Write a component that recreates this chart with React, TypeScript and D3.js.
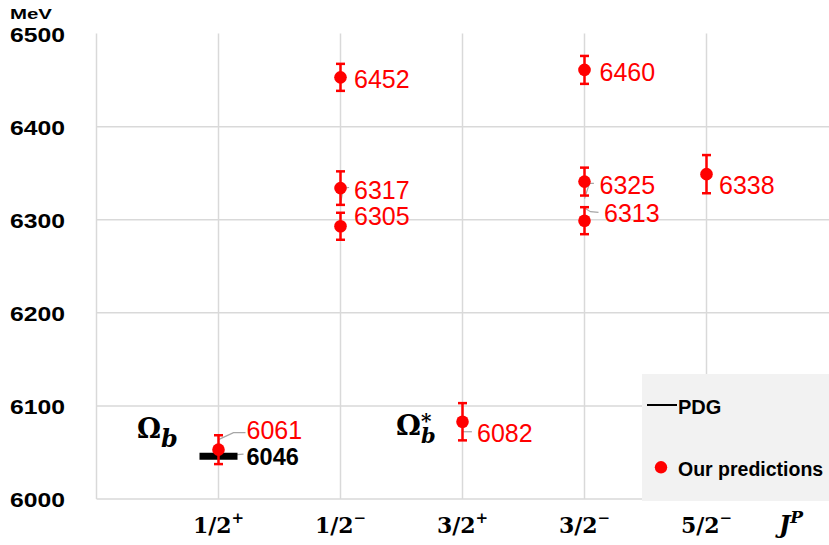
import React from "react";
import * as d3 from "d3";

const categories = ["1/2", "1/2", "3/2", "3/2", "5/2"];
const parities = ["+", "\u2212", "+", "\u2212", "\u2212"];
const yTicks = [6000, 6100, 6200, 6300, 6400, 6500];

const predCategory = [0, 1, 1, 1, 2, 3, 3, 3, 4];
const predMass = [6053, 6453, 6334, 6293, 6083, 6461, 6341, 6299, 6349];
const predError = [15.5, 14.5, 18, 14.5, 20, 15, 15, 14.5, 20.5];
const predLabel = ["6061", "6452", "6317", "6305", "6082", "6460", "6325", "6313", "6338"];

const pdgCategory = [0];
const pdgMass = [6046];
const pdgLabel = ["6046"];

// annotation layout (pixel offsets from the point)
const labelDx = [28, 13.5, 13.5, 13.5, 14.5, 15, 15, 19.5, 12.5];
const labelDy = [-10.5, 10.5, 10.5, -1.5, 20, 11, 12.5, 1.5, 20];
const leaders: (number[][] | null)[] = [
  [[0, -10], [15, -17], [27, -17]],
  null,
  [[0, 17], [2.6, 0], [8.6, -0.6]],
  null,
  [[0, 10], [9.4, 10]],
  null,
  [[0, 17], [5, 1.7], [9.4, 1.7]],
  [[0, -12.7], [6, -9], [14, -8.4]],
  null,
];

const W = 829;
const H = 545;
const RED = "#ff0000";
const GRID = "#d9d9d9";

export default function App() {
  const x = d3.scaleLinear().domain([0, 6]).range([96.5, 828.5]);
  const y = d3.scaleLinear().domain([6000, 6500]).range([499, 33.6]);
  const cx = (i: number) => x(i + 1);
  const line = d3.line();

  return (
    <svg
      width={W}
      height={H}
      style={{ position: "absolute", left: 0, top: 0, background: "#fff" }}
    >
      {/* grid */}
      {yTicks.filter((t) => t < 6500).map((t) => (
        <line key={"h" + t} x1={x(0)} x2={W} y1={y(t)} y2={y(t)} stroke={GRID} strokeWidth={1.5} />
      ))}
      {[0, 1, 2, 3, 4, 5].map((i) => (
        <line key={"v" + i} x1={x(i)} x2={x(i)} y1={y(6500)} y2={y(6000)} stroke={GRID} strokeWidth={1.5} />
      ))}

      {/* legend box */}
      <rect x={642} y={374} width={W - 642} height={127} fill="#f2f2f2" />
      <line x1={647} x2={677} y1={405} y2={405} stroke="#000" strokeWidth={2} />
      <text x={678} y={413.5} fontFamily="Liberation Sans, Arial, sans-serif" fontWeight="bold" fontSize={20} fill="#000">PDG</text>
      <circle cx={661} cy={467.3} r={6.2} fill={RED} />
      <text x={678} y={476} fontFamily="Liberation Sans, Arial, sans-serif" fontWeight="bold" fontSize={19.5} fill="#000">Our predictions</text>

      {/* y axis labels */}
      <text x={10} y={19.3} fontFamily="Liberation Sans, Arial, sans-serif" fontWeight="bold" fontSize={14} textLength={42} lengthAdjust="spacingAndGlyphs">MeV</text>
      {yTicks.map((t) => (
        <text key={"yt" + t} x={10} y={y(t) + 8} fontFamily="Liberation Sans, Arial, sans-serif" fontWeight="bold" fontSize={21} textLength={55} lengthAdjust="spacingAndGlyphs">{t}</text>
      ))}

      {/* x axis labels */}
      {categories.map((c, i) => (
        <text key={"xc" + i} x={cx(i)} y={533} textAnchor="middle" fontFamily="DejaVu Serif, serif" fontWeight="bold" fontSize={22}>
          {c}
          <tspan fontSize={15} dy={-10}>{parities[i]}</tspan>
        </text>
      ))}
      <text x={779} y={533} fontFamily="DejaVu Serif, serif" fontWeight="bold" fontStyle="italic" fontSize={24}>
        J<tspan fontSize={17} dy={-10}>P</tspan>
      </text>

      {/* Omega labels */}
      <text x={137} y={438} fontFamily="DejaVu Serif, serif" fontWeight="bold" fontSize={27}>
        Ω<tspan fontStyle="italic" fontSize={24} dy={9}>b</tspan>
      </text>
      <text x={396} y={435} fontFamily="DejaVu Serif, serif" fontWeight="bold" fontSize={28}>
        Ω
        <tspan x={421} y={443} fontStyle="italic" fontSize={21}>b</tspan>
        <tspan x={421} y={428} fontSize={20}>*</tspan>
      </text>

      {/* leader lines */}
      {predMass.map((m, i) => {
        const L = leaders[i];
        if (!L) return null;
        const px = cx(predCategory[i]);
        const py = y(m);
        return (
          <path key={"ld" + i} d={line(L.map(([dx, dy]) => [px + dx, py + dy] as [number, number])) || ""} fill="none" stroke="#a6a6a6" strokeWidth={1.2} />
        );
      })}
      {pdgMass.map((m, i) => (
        <path key={"pl" + i} d={line([[cx(pdgCategory[i]), y(m)], [cx(pdgCategory[i]) + 25, y(m) - 2]]) || ""} fill="none" stroke="#a6a6a6" strokeWidth={1.2} />
      ))}

      {/* PDG bars */}
      {pdgMass.map((m, i) => (
        <g key={"pdg" + i}>
          <line x1={cx(pdgCategory[i]) - 19} x2={cx(pdgCategory[i]) + 19} y1={y(m)} y2={y(m)} stroke="#000" strokeWidth={7} />
          <text x={cx(pdgCategory[i]) + 28} y={y(m) + 8.5} fontFamily="Liberation Sans, Arial, sans-serif" fontWeight="bold" fontSize={23.5} fill="#000">{pdgLabel[i]}</text>
        </g>
      ))}

      {/* predictions */}
      {predMass.map((m, i) => {
        const px = cx(predCategory[i]);
        const y1 = y(m + predError[i]);
        const y2 = y(m - predError[i]);
        return (
          <g key={"p" + i}>
            <line x1={px} x2={px} y1={y1} y2={y2} stroke={RED} strokeWidth={2.5} />
            <line x1={px - 4.5} x2={px + 4.5} y1={y1} y2={y1} stroke={RED} strokeWidth={2.5} />
            <line x1={px - 4.5} x2={px + 4.5} y1={y2} y2={y2} stroke={RED} strokeWidth={2.5} />
            <circle cx={px} cy={y(m)} r={6.3} fill={RED} />
            <text x={px + labelDx[i]} y={y(m) + labelDy[i]} fontFamily="Liberation Sans, Arial, sans-serif" fontSize={25} fill={RED}>{predLabel[i]}</text>
          </g>
        );
      })}
    </svg>
  );
}
